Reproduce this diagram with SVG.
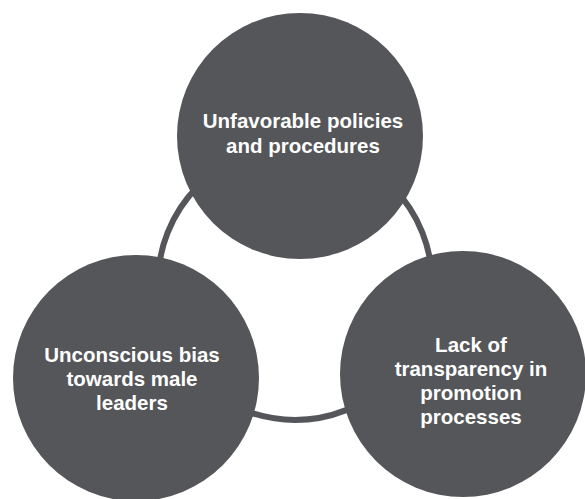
<svg xmlns="http://www.w3.org/2000/svg" width="585" height="499" viewBox="0 0 585 499">
<style>
.node{fill:#555659}
.ring{fill:none;stroke:#555659;stroke-width:6}
.lbl{fill:#ffffff;font-family:"Liberation Sans",Arial,sans-serif;font-weight:bold;font-size:20.5px;text-anchor:middle}
</style>
<rect width="585" height="499" fill="#ffffff"/>
<g id="connectors">
<circle class="ring" cx="295" cy="283" r="137"/>
</g>
<g id="node-top">
<circle class="node" cx="300" cy="136" r="123"/>
<text class="lbl" x="303" y="128">Unfavorable policies</text>
<text class="lbl" x="303" y="153">and procedures</text>
</g>
<g id="node-left">
<circle class="node" cx="136" cy="378" r="123"/>
<text class="lbl" x="132" y="362">Unconscious bias</text>
<text class="lbl" x="132" y="386">towards male</text>
<text class="lbl" x="132" y="410">leaders</text>
</g>
<g id="node-right">
<circle class="node" cx="463" cy="374" r="123"/>
<text class="lbl" x="471" y="352">Lack of</text>
<text class="lbl" x="471" y="376">transparency in</text>
<text class="lbl" x="471" y="400">promotion</text>
<text class="lbl" x="471" y="424">processes</text>
</g>
</svg>
